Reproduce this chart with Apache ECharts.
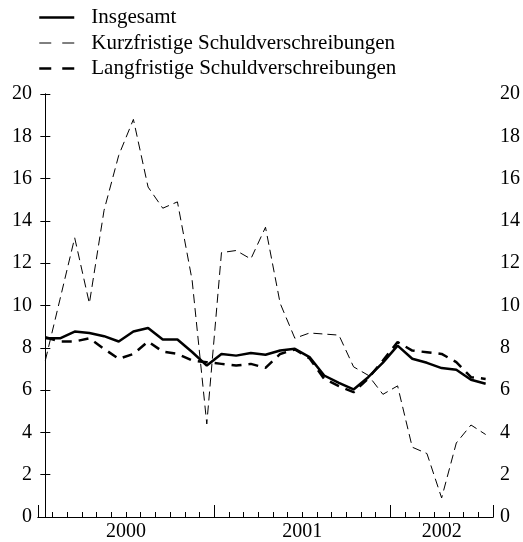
<!DOCTYPE html>
<html>
<head>
<meta charset="utf-8">
<script src="https://cdn.jsdelivr.net/npm/echarts@6/dist/echarts.min.js"></script>
<style>
html, body { margin: 0; padding: 0; background: #fff; }
#chart { width: 523px; height: 542px; }
</style>
</head>
<body>
<div id="chart"></div>
<script>
// monthly data, Jan 2000 - Jul 2002
var months = [
	'2000-01','2000-02','2000-03','2000-04','2000-05','2000-06','2000-07','2000-08','2000-09','2000-10','2000-11','2000-12',
	'2001-01','2001-02','2001-03','2001-04','2001-05','2001-06','2001-07','2001-08','2001-09','2001-10','2001-11','2001-12',
	'2002-01','2002-02','2002-03','2002-04','2002-05','2002-06','2002-07'
];
var years = ['2000', '2001', '2002'];
var yTicks = [0, 2, 4, 6, 8, 10, 12, 14, 16, 18, 20];

var insgesamt = [8.45, 8.45, 8.77, 8.7, 8.55, 8.3, 8.77, 8.94, 8.39, 8.39, 7.8, 7.16,
	7.71, 7.63, 7.75, 7.67, 7.87, 7.95, 7.56, 6.69, 6.34, 6.03, 6.61, 7.3,
	8.1, 7.48, 7.29, 7.04, 6.96, 6.49, 6.3];
var kurzfristig = [7.4, 10.3, 13.2, 10.1, 14.5, 17.1, 18.8, 15.6, 14.6, 14.9, 11.2, 4.4,
	12.5, 12.6, 12.2, 13.7, 10.1, 8.45, 8.7, 8.65, 8.6, 7.1, 6.7, 5.8,
	6.2, 3.3, 3.0, 0.9, 3.5, 4.35, 3.9];
var langfristig = [8.5, 8.3, 8.3, 8.45, 7.95, 7.48, 7.71, 8.3, 7.82, 7.71, 7.4, 7.32,
	7.24, 7.16, 7.24, 7.05, 7.71, 7.92, 7.5, 6.53, 6.19, 5.9, 6.55, 7.4,
	8.27, 7.87, 7.79, 7.71, 7.32, 6.61, 6.53];

function pairs(vals) {
	var out = [];
	for (var i = 0; i < vals.length; i++) out.push([i, vals[i]]);
	return out;
}

// year label sits in the middle of that year's months
var yearPos = {};
for (var k = 0; k < years.length; k++) {
	var first = -1, last = -1;
	for (var m = 0; m < months.length; m++) {
		if (months[m].slice(0, 4) === years[k]) {
			if (first < 0) first = m;
			last = m;
		}
	}
	yearPos[((first + last) / 2).toFixed(1)] = years[k];
}

var font = 'Liberation Serif';
var xMin = -0.5, xMax = months.length - 0.5;

var myChart = echarts.init(document.getElementById('chart'));

var baseX = {
	type: 'value',
	min: xMin,
	max: xMax,
	position: 'bottom',
	axisLine: {show: true, onZero: false, lineStyle: {color: '#000', width: 1}},
	splitLine: {show: false},
	axisLabel: {show: false}
};

var option = {
	animation: false,
	backgroundColor: '#fff',
	legend: {
		orient: 'vertical',
		left: 38,
		top: 7,
		padding: 0,
		icon: 'inherit',
		itemWidth: 35,
		itemHeight: 14,
		itemGap: 4.5,
		itemStyle: {opacity: 0},
		textStyle: {fontFamily: font, fontSize: 21, lineHeight: 21, color: '#000', padding: [0, 0, 0, 12]},
		data: [
			{name: 'Insgesamt', lineStyle: {width: 2.5, type: 'solid'}},
			{name: 'Kurzfristige Schuldverschreibungen', lineStyle: {width: 1, type: [12, 11]}},
			{name: 'Langfristige Schuldverschreibungen', lineStyle: {width: 2.5, type: [12, 11]}}
		]
	},
	grid: {left: 38, right: 30, top: 94, bottom: 24, containLabel: false},
	xAxis: [
		Object.assign({}, baseX, {
			interval: 1,
			axisTick: {show: true, inside: true, length: 5, lineStyle: {color: '#000'}}
		}),
		Object.assign({}, baseX, {
			interval: 12,
			axisTick: {show: true, inside: true, length: 12, lineStyle: {color: '#000'}}
		}),
		Object.assign({}, baseX, {
			interval: 0.5,
			axisLine: {show: false},
			axisTick: {show: false},
			axisLabel: {
				show: true,
				margin: 5,
				fontFamily: font,
				fontSize: 20,
				color: '#000',
				formatter: function (v) {
					return yearPos[v.toFixed(1)] || '';
				}
			}
		})
	],
	yAxis: [
		{
			type: 'value',
			position: 'left',
			min: yTicks[0],
			max: yTicks[yTicks.length - 1],
			interval: yTicks[1] - yTicks[0],
			axisLine: {show: true, lineStyle: {color: '#000'}},
			axisTick: {show: true, inside: true, length: 5, lineStyle: {color: '#000'}},
			splitLine: {show: false},
			axisLabel: {margin: 6, fontFamily: font, fontSize: 20, color: '#000'}
		},
		{
			type: 'value',
			position: 'right',
			min: yTicks[0],
			max: yTicks[yTicks.length - 1],
			interval: yTicks[1] - yTicks[0],
			axisLine: {show: true, lineStyle: {color: '#000'}},
			axisTick: {show: true, inside: true, length: 5, lineStyle: {color: '#000'}},
			splitLine: {show: false},
			axisLabel: {margin: 7, fontFamily: font, fontSize: 20, color: '#000'}
		}
	],
	series: [
		{
			name: 'Insgesamt',
			type: 'line',
			data: pairs(insgesamt),
			showSymbol: false,
			symbol: 'none',
			color: '#000',
			lineStyle: {color: '#000', width: 2.5}
		},
		{
			name: 'Kurzfristige Schuldverschreibungen',
			type: 'line',
			data: pairs(kurzfristig),
			showSymbol: false,
			symbol: 'none',
			color: '#000',
			lineStyle: {color: '#000', width: 1, type: [9, 5]}
		},
		{
			name: 'Langfristige Schuldverschreibungen',
			type: 'line',
			data: pairs(langfristig),
			showSymbol: false,
			symbol: 'none',
			color: '#000',
			lineStyle: {color: '#000', width: 2.5, type: [10, 7]}
		}
	]
};
myChart.setOption(option);
</script>
</body>
</html>
